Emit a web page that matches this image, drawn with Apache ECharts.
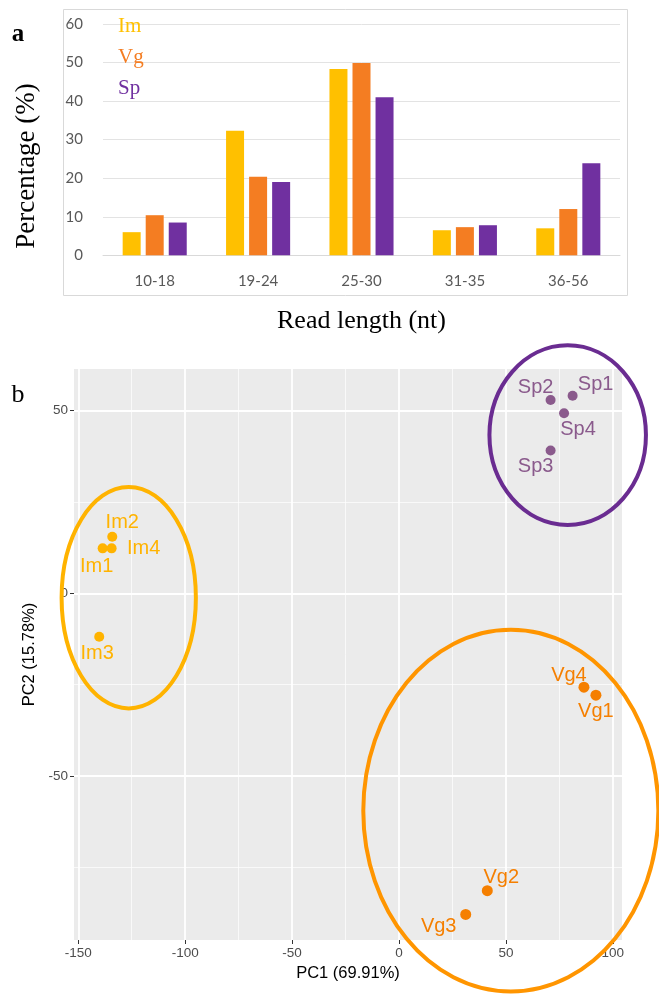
<!DOCTYPE html>
<html>
<head>
<meta charset="utf-8">
<title>Read length distribution and PCA</title>
<script src="https://cdn.jsdelivr.net/npm/echarts@6/dist/echarts.min.js"></script>
<style>
  html, body { margin: 0; padding: 0; background: #fff; }
  #chart { width: 659px; height: 994px; }
</style>
</head>
<body>
<div id="chart"></div>
<script>
// Panel a: read length distribution (%)
const categories = ['10-18', '19-24', '25-30', '31-35', '36-56'];
const imPct = [6.0, 32.3, 48.3, 6.5, 7.0];
const vgPct = [10.4, 20.4, 49.9, 7.3, 12.0];
const spPct = [8.5, 19.0, 41.0, 7.8, 23.9];
const pctTicks = [0, 10, 20, 30, 40, 50, 60];

// Panel b: PCA scores [sample, PC1, PC2]
const imPoints = [['Im1', -138.6, 12.3], ['Im2', -134.1, 15.5], ['Im3', -140.2, -11.9], ['Im4', -134.4, 12.3]];
const vgPoints = [['Vg1', 92.1, -27.9], ['Vg2', 41.3, -81.4], ['Vg3', 31.2, -87.9], ['Vg4', 86.5, -25.7]];
const spPoints = [['Sp1', 81.2, 54.1], ['Sp2', 70.9, 52.9], ['Sp3', 70.9, 39.1], ['Sp4', 77.2, 49.3]];

// Group ellipses [centre PC1, centre PC2, radius PC1, radius PC2]
const imEllipse = [-126.4, -1.2, 31.4, 30.3];
const vgEllipse = [52.3, -59.5, 69.0, 49.5];
const spEllipse = [78.9, 43.3, 36.6, 24.6];

// Axis ticks of panel b
const pc1Major = [-150, -100, -50, 0, 50, 100];
const pc1Minor = [-125, -75, -25, 25, 75];
const pc2Major = [-50, 0, 50];
const pc2Minor = [-75, -25, 25];

// Label placement around each point (pixels)
const labelOffset = {
  Im1: [-6, 18], Im2: [10, -14], Im3: [-2, 17], Im4: [32, 0],
  Sp1: [23, -11], Sp2: [-15, -13], Sp3: [-15, 16], Sp4: [14, 16],
  Vg1: [0, 16], Vg2: [14, -13], Vg3: [-27, 12], Vg4: [-15, -12]
};

const barColors = { Im: '#FFC000', Vg: '#F47D22', Sp: '#7030A0' };
const pointColors = { Im: '#FFB300', Vg: '#F57F00', Sp: '#8A5A8C' };
const ellipseColors = { Im: '#FFB300', Vg: '#FF9500', Sp: '#6A2C91' };

const serif = '"Liberation Serif", "DejaVu Serif", serif';
const sans = '"Liberation Sans", Arial, sans-serif';

function barSeries(name, values) {
  return {
    name: name, type: 'bar', xAxisIndex: 0, yAxisIndex: 0,
    data: values, barWidth: 18, barGap: '28%',
    itemStyle: { color: barColors[name] }
  };
}

function scatterSeries(name, points) {
  return {
    name: name, type: 'scatter', xAxisIndex: 1, yAxisIndex: 1,
    symbolSize: name === 'Vg' ? 11 : 10,
    data: points.map(p => ({
      name: p[0], value: [p[1], p[2]],
      label: { offset: labelOffset[p[0]] }
    })),
    itemStyle: { color: pointColors[name], opacity: 1 },
    label: {
      show: true, position: 'inside', formatter: '{b}',
      color: pointColors[name], fontFamily: sans, fontSize: 20,
      align: 'center', verticalAlign: 'middle'
    },
    z: 3
  };
}

function ellipseSeries(name, e) {
  return {
    type: 'custom', xAxisIndex: 1, yAxisIndex: 1, clip: false, silent: true,
    data: [e],
    renderItem: function (params, api) {
      const c = api.coord([api.value(0), api.value(1)]);
      const s = api.size([api.value(2), api.value(3)]);
      return {
        type: 'ellipse',
        shape: { cx: c[0], cy: c[1], rx: s[0], ry: s[1] },
        style: { fill: 'none', stroke: ellipseColors[name], lineWidth: 4 }
      };
    },
    z: 4
  };
}

const chart = echarts.init(document.getElementById('chart'), null, { renderer: 'canvas' });

chart.setOption({
  animation: false,
  backgroundColor: '#ffffff',
  graphic: [
    { type: 'rect', shape: { x: 63.5, y: 9.5, width: 564, height: 286 },
      style: { fill: 'none', stroke: '#D9D9D9', lineWidth: 1 }, z: -1 },
    { type: 'text', x: 18, y: 35,
      style: { text: 'a', font: 'bold 25px ' + serif, fill: '#000', align: 'center', verticalAlign: 'middle' } },
    { type: 'text', x: 27, y: 166, rotation: Math.PI / 2,
      style: { text: 'Percentage (%)', font: '27px ' + serif, fill: '#000', align: 'center', verticalAlign: 'middle' } },
    { type: 'text', x: 18, y: 395,
      style: { text: 'b', font: '26px ' + serif, fill: '#000', align: 'center', verticalAlign: 'middle' } }
  ],
  legend: {
    data: [
      { name: 'Im', textStyle: { color: barColors.Im } },
      { name: 'Vg', textStyle: { color: barColors.Vg } },
      { name: 'Sp', textStyle: { color: barColors.Sp } }
    ],
    orient: 'vertical', left: 108, top: 11,
    itemWidth: 0, itemHeight: 0, itemGap: 10,
    textStyle: { fontFamily: serif, fontSize: 21, lineHeight: 21 },
    selectedMode: false
  },
  grid: [
    { left: 103, right: 39, top: 24, height: 231.3, containLabel: false },
    { left: 74, right: 37, top: 369, bottom: 54, show: true,
      backgroundColor: '#EBEBEB', borderWidth: 0, containLabel: false }
  ],
  xAxis: [
    {
      type: 'category', gridIndex: 0, data: categories,
      axisLine: { lineStyle: { color: '#D9D9D9' } },
      axisTick: { show: false },
      axisLabel: { color: '#595959', fontFamily: 'Lato, "Open Sans", sans-serif', fontSize: 15, margin: 18 },
      name: 'Read length (nt)', nameLocation: 'middle', nameGap: 53,
      nameTextStyle: { fontFamily: serif, fontSize: 26, color: '#000' }
    },
    {
      type: 'value', gridIndex: 1, min: -152, max: 104.3, position: 'bottom',
      axisLine: { show: false, onZero: false },
      axisTick: { show: true, length: 4, customValues: pc1Major, lineStyle: { color: '#333', width: 1 } },
      axisLabel: { customValues: pc1Major, color: '#4D4D4D', fontFamily: sans, fontSize: 13.5, margin: 6 },
      splitLine: { show: true, lineStyle: { color: '#FFFFFF', width: 1.8 } },
      name: 'PC1 (69.91%)', nameLocation: 'middle', nameGap: 25,
      nameTextStyle: { fontFamily: sans, fontSize: 16.5, color: '#000' }
    },
    {
      type: 'value', gridIndex: 1, min: -152, max: 104.3, position: 'bottom',
      axisLine: { show: false, onZero: false },
      axisTick: { show: false, customValues: pc1Minor },
      axisLabel: { show: false, customValues: pc1Minor },
      splitLine: { show: true, lineStyle: { color: '#FFFFFF', width: 0.7 } }
    }
  ],
  yAxis: [
    {
      type: 'value', gridIndex: 0, min: 0, max: 60, interval: 10,
      axisLine: { show: false }, axisTick: { show: false },
      axisLabel: { color: '#595959', fontFamily: 'Lato, "Open Sans", sans-serif', fontSize: 15, margin: 20,
        customValues: pctTicks },
      splitLine: { lineStyle: { color: '#E3E3E3', width: 1 } }
    },
    {
      type: 'value', gridIndex: 1, min: -94.9, max: 61.4, position: 'left',
      axisLine: { show: false, onZero: false },
      axisTick: { show: true, length: 4, customValues: pc2Major, lineStyle: { color: '#333', width: 1 } },
      axisLabel: { customValues: pc2Major, color: '#4D4D4D', fontFamily: sans, fontSize: 13.5, margin: 6 },
      splitLine: { show: true, lineStyle: { color: '#FFFFFF', width: 1.8 } },
      name: 'PC2 (15.78%)', nameLocation: 'middle', nameGap: 32,
      nameTextStyle: { fontFamily: sans, fontSize: 16.5, color: '#000' }
    },
    {
      type: 'value', gridIndex: 1, min: -94.9, max: 61.4, position: 'left',
      axisLine: { show: false, onZero: false },
      axisTick: { show: false, customValues: pc2Minor },
      axisLabel: { show: false, customValues: pc2Minor },
      splitLine: { show: true, lineStyle: { color: '#FFFFFF', width: 0.7 } }
    }
  ],
  series: [
    barSeries('Im', imPct),
    barSeries('Vg', vgPct),
    barSeries('Sp', spPct),
    scatterSeries('Im', imPoints),
    scatterSeries('Vg', vgPoints),
    scatterSeries('Sp', spPoints),
    ellipseSeries('Im', imEllipse),
    ellipseSeries('Vg', vgEllipse),
    ellipseSeries('Sp', spEllipse)
  ]
});
</script>
</body>
</html>
